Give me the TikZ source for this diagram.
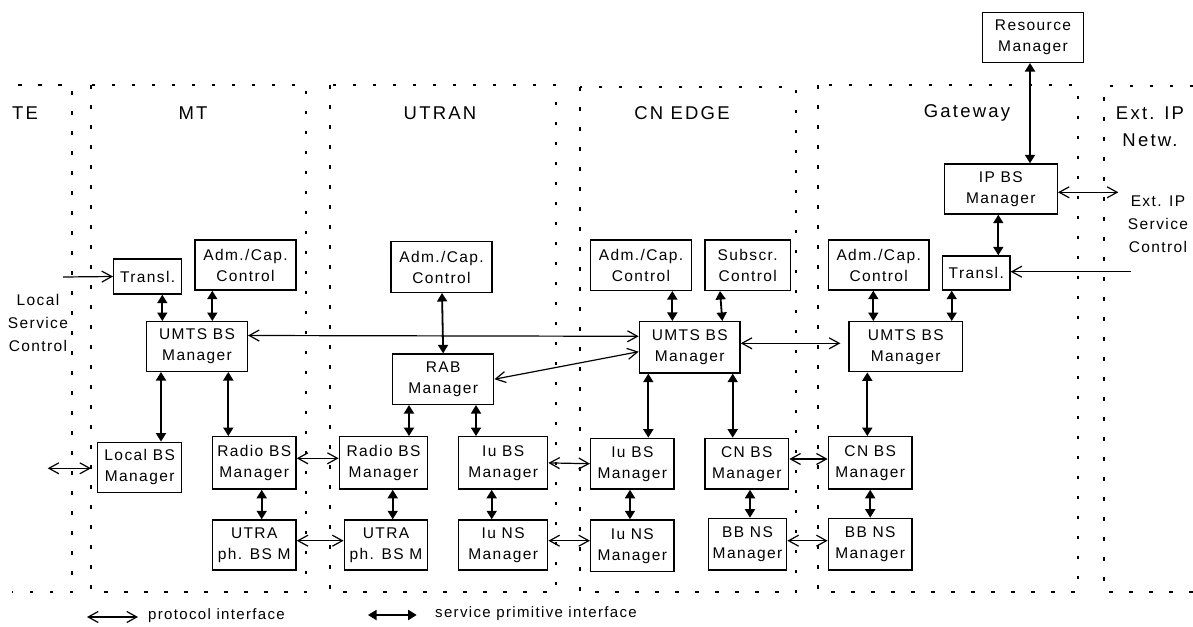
\documentclass[tikz,border=0pt]{standalone}
\usepackage{fontspec}
\usetikzlibrary{arrows.meta}
\newfontfamily\boxfont{Liberation Sans}[LetterSpace=9]
\newfontfamily\labelfont{Liberation Sans}[LetterSpace=12]
\begin{document}
\begin{tikzpicture}[x=1pt,y=-1pt,
  mgr/.style={draw, line width=1.4pt, align=center, inner sep=0pt,
    font=\boxfont\fontsize{15.5}{21}\selectfont},
  prot/.style={line width=1.2pt,
    {Straight Barb[length=10pt,width=11pt]}-{Straight Barb[length=10pt,width=11pt]}},
  svc/.style={line width=1.8pt,
    {Triangle[length=8.5pt,width=10pt]}-{Triangle[length=8.5pt,width=10pt]}},
  feed/.style={line width=1.2pt, -{Straight Barb[length=10pt,width=11pt]}},
  zoneframe/.style={line width=1.5pt, dash pattern=on 3.5pt off 16.5pt},
  zonetitle/.style={font=\labelfont\fontsize{18.5}{27}\selectfont, align=center},
  sidetext/.style={font=\boxfont\fontsize{15.5}{23}\selectfont, align=center},
  legendtext/.style={font=\boxfont\fontsize{15}{18}\selectfont, anchor=west, inner sep=0pt}
]
\useasboundingbox (0,0) rectangle (1193,626);

% domain frames
\draw[zoneframe] (18,85) -- (72,85) -- (72,592) -- (12,592);
\draw[zoneframe] (91,85) rectangle (306,592);
\draw[zoneframe] (330,85) rectangle (556,592);
\draw[zoneframe] (580,87) rectangle (796,592);
\draw[zoneframe] (818,85) rectangle (1078,592);
\draw[zoneframe] (1193,86) -- (1104,86) -- (1104,592) -- (1193,592);

% domain titles
\node[zonetitle] (tTE) at (25,113) {TE};
\node[zonetitle] (tMT) at (193,113) {MT};
\node[zonetitle] (tUT) at (440,113) {UTRAN};
\node[zonetitle] (tCN) at (682,113) {CN EDGE};
\node[zonetitle] (tGW) at (967,113) {Gateway};
\node[zonetitle] (tEX) at (1150,126.5) {Ext. IP\\Netw.};

% side texts
\node[sidetext] (lsc) at (38,323) {Local\\Service\\Control};
\node[sidetext] (esc) at (1158,224) {Ext. IP\\Service\\Control};

% MT
\node[mgr, minimum width=68pt,  minimum height=35pt] (trMT)   at (147.7,276.5) {Transl.};
\node[mgr, minimum width=101pt, minimum height=50pt] (admMT)  at (245.5,265) {Adm./Cap.\\Control};
\node[mgr, minimum width=100.6pt, minimum height=49.6pt] (umtsMT) at (197,346.5) {UMTS BS\\Manager};
\node[mgr, minimum width=84pt,  minimum height=50pt] (localBS) at (139.7,467.3) {Local BS\\Manager};
\node[mgr, minimum width=83.7pt, minimum height=52.3pt] (radioMT) at (254.2,462.9) {Radio BS\\Manager};
\node[mgr, minimum width=83.7pt, minimum height=50pt] (utraMT) at (254.2,545) {UTRA\\ph. BS M};

% UTRAN
\node[mgr, minimum width=101pt, minimum height=50.6pt] (admUT) at (441.5,267) {Adm./Cap.\\Control};
\node[mgr, minimum width=101pt, minimum height=50.3pt] (rab) at (443.2,379.2) {RAB\\Manager};
\node[mgr, minimum width=88.4pt, minimum height=52.3pt] (radioUT) at (383.5,462.9) {Radio BS\\Manager};
\node[mgr, minimum width=83.4pt, minimum height=50pt] (utraUT) at (386,545) {UTRA\\ph. BS M};
\node[mgr, minimum width=89pt, minimum height=52.3pt] (iubsUT) at (503.2,462.9) {Iu BS\\Manager};
\node[mgr, minimum width=89pt, minimum height=50pt] (iunsUT) at (503.2,545) {Iu NS\\Manager};

% CN EDGE
\node[mgr, minimum width=100.6pt, minimum height=50.3pt] (admCN) at (641,265.2) {Adm./Cap.\\Control};
\node[mgr, minimum width=85.3pt, minimum height=50.3pt] (subscr) at (747.7,265.2) {Subscr.\\Control};
\node[mgr, minimum width=100.7pt, minimum height=51.3pt] (umtsCN) at (689.7,347.3) {UMTS BS\\Manager};
\node[mgr, minimum width=83.3pt, minimum height=50.7pt] (iubsCN) at (632.3,463.7) {Iu BS\\Manager};
\node[mgr, minimum width=83.3pt, minimum height=51.7pt] (iunsCN) at (632.3,545.8) {Iu NS\\Manager};
\node[mgr, minimum width=83.7pt, minimum height=50.7pt] (cnbsCN) at (746.8,463.7) {CN BS\\Manager};
\node[mgr, minimum width=78.4pt, minimum height=51.7pt] (bbnsCN) at (747.5,544.2) {BB NS\\Manager};

% Gateway
\node[mgr, minimum width=100.6pt, minimum height=50pt] (res) at (1033,37.3) {Resource\\Manager};
\node[mgr, minimum width=113pt, minimum height=50pt] (ipbs) at (1000.8,189) {IP BS\\Manager};
\node[mgr, minimum width=100.7pt, minimum height=50pt] (admGW) at (878.7,265) {Adm./Cap.\\Control};
\node[mgr, minimum width=67.3pt, minimum height=34pt] (trGW) at (976.3,273) {Transl.};
\node[mgr, minimum width=113.3pt, minimum height=50pt] (umtsGW) at (905.7,346.7) {UMTS BS\\Manager};
\node[mgr, minimum width=83.7pt, minimum height=52.3pt] (cnbsGW) at (870.2,462.9) {CN BS\\Manager};
\node[mgr, minimum width=83.7pt, minimum height=51.7pt] (bbnsGW) at (870.2,544.2) {BB NS\\Manager};

% free ends
\coordinate (lscIn) at (63,277);
\coordinate (escIn) at (1130.7,271.7);
\coordinate (teA) at (47.7,468.3);
\coordinate (teB) at (91,468.3);
\coordinate (extA) at (1118.3,192.3);
\coordinate (legPa) at (87,617);
\coordinate (legPb) at (138,617);
\coordinate (legSa) at (368,615);
\coordinate (legSb) at (416.7,615);

% service primitive interfaces
\draw[svc] ([xshift=14.6pt]trMT.south) -- ([xshift=-34.7pt]umtsMT.north);
\draw[svc] ([xshift=-33.2pt]admMT.south) -- ([xshift=15.3pt]umtsMT.north);
\draw[svc] ([xshift=-36pt]umtsMT.south) -- ([xshift=21.3pt]localBS.north);
\draw[svc] ([xshift=31.3pt]umtsMT.south) -- ([xshift=-25.9pt]radioMT.north);
\draw[svc] ([xshift=7.5pt]radioMT.south) -- ([xshift=7.5pt]utraMT.north);
\draw[svc] ([xshift=0.5pt]admUT.south) -- (rab.north);
\draw[svc] ([xshift=-34.2pt]rab.south) -- ([xshift=25.5pt]radioUT.north);
\draw[svc] ([xshift=32.8pt]rab.south) -- ([xshift=-27.2pt]iubsUT.north);
\draw[svc] ([xshift=9.2pt]radioUT.south) -- ([xshift=6.7pt]utraUT.north);
\draw[svc] ([xshift=-11.5pt]iubsUT.south) -- ([xshift=-11.5pt]iunsUT.north);
\draw[svc] ([xshift=31.3pt]admCN.south) -- ([xshift=-17.4pt]umtsCN.north);
\draw[svc] ([xshift=-27.7pt]subscr.south) -- ([xshift=32.6pt]umtsCN.north);
\draw[svc] ([xshift=-41.4pt]umtsCN.south) -- ([xshift=16pt]iubsCN.north);
\draw[svc] ([xshift=43pt]umtsCN.south) -- ([xshift=-14.1pt]cnbsCN.north);
\draw[svc] ([xshift=-2.3pt]iubsCN.south) -- ([xshift=-2.3pt]iunsCN.north);
\draw[svc] ([xshift=3.2pt]cnbsCN.south) -- ([xshift=2.5pt]bbnsCN.north);
\draw[svc] ([xshift=-3pt]res.south) -- ([xshift=29.2pt]ipbs.north);
\draw[svc] ([xshift=-2.5pt]ipbs.south) -- ([xshift=22pt]trGW.north);
\draw[svc] ([xshift=-5.4pt]admGW.south) -- ([xshift=-32.4pt]umtsGW.north);
\draw[svc] ([xshift=-24.6pt]trGW.south) -- ([xshift=46pt]umtsGW.north);
\draw[svc] ([xshift=-38.4pt]umtsGW.south) -- ([xshift=-2.9pt]cnbsGW.north);
\draw[svc] (cnbsGW.south) -- (bbnsGW.north);

% protocol interfaces
\draw[prot] ([yshift=11pt]umtsMT.east) -- ([yshift=11pt]umtsCN.west);
\draw[prot] (rab.east) -- ([yshift=-4.4pt]umtsCN.west);
\draw[prot, shorten >=8pt] ([yshift=4pt]umtsCN.east) -- ([yshift=3.4pt]umtsGW.west);
\draw[prot] ([yshift=4.6pt]radioMT.east) -- ([yshift=4.6pt]radioUT.west);
\draw[prot] ([yshift=4.3pt]utraMT.east) -- ([yshift=4.3pt]utraUT.west);
\draw[prot] (iubsUT.east) -- (iubsCN.west);
\draw[prot] ([yshift=4.3pt]iunsUT.east) -- ([yshift=5.1pt]iunsCN.west);
\draw[prot] ([yshift=4.7pt]cnbsCN.east) -- ([yshift=3.9pt]cnbsGW.west);
\draw[prot] ([yshift=3.5pt]bbnsCN.east) -- ([yshift=3.5pt]bbnsGW.west);
\draw[prot] (teA) -- (teB);
\draw[prot] ([yshift=-3.3pt]ipbs.east) -- (extA);

% service control inputs
\draw[feed] (lscIn) -- (trMT.west);
\draw[feed] (escIn) -- ([yshift=1.3pt]trGW.east);

% legend
\draw[prot] (legPa) -- (legPb);
\node[legendtext] (legP) at (148,616) {protocol interface};
\draw[svc] (legSa) -- (legSb);
\node[legendtext] (legS) at (435,614) {service primitive interface};
\end{tikzpicture}
\end{document}
